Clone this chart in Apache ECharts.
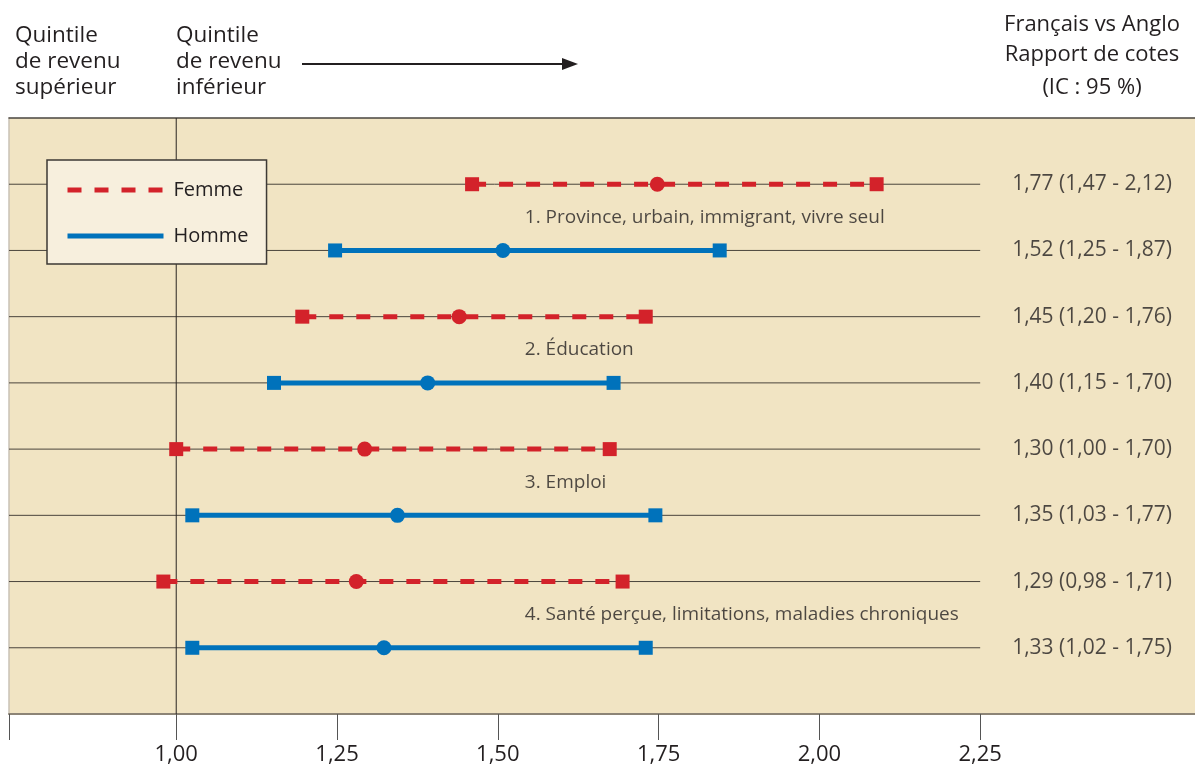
<!DOCTYPE html>
<html>
<head>
<meta charset="utf-8">
<script src="https://cdn.jsdelivr.net/npm/echarts@6/dist/echarts.min.js"></script>
<style>
html,body{margin:0;padding:0;background:#fff;}
#chart{width:1195px;height:768px;}
</style>
</head>
<body>
<div id="chart"></div>
<script>
// ---- Data ----
const femmeRows = [1, 3, 5, 7];
const hommeRows = [2, 4, 6, 8];
const femmeLow  = [1.460, 1.196, 1.000, 0.980];
const femmeMid  = [1.748, 1.440, 1.293, 1.280];
const femmeHigh = [2.089, 1.730, 1.674, 1.694];
const hommeLow  = [1.247, 1.152, 1.025, 1.025];
const hommeMid  = [1.508, 1.391, 1.344, 1.323];
const hommeHigh = [1.845, 1.680, 1.745, 1.730];
const ciLabels = [
  '1,77 (1,47 - 2,12)', '1,52 (1,25 - 1,87)',
  '1,45 (1,20 - 1,76)', '1,40 (1,15 - 1,70)',
  '1,30 (1,00 - 1,70)', '1,35 (1,03 - 1,77)',
  '1,29 (0,98 - 1,71)', '1,33 (1,02 - 1,75)'
];
const groupLabels = [
  '1. Province, urbain, immigrant, vivre seul',
  '2. Éducation',
  '3. Emploi',
  '4. Santé perçue, limitations, maladies chroniques'
];
const groupRows = [1.5, 3.5, 5.5, 7.5];
const tickValues = [1.00, 1.25, 1.50, 1.75, 2.00, 2.25];
const refValue = 1.00;
const axisMin = 0.74, axisMax = 2.584, rowLineEnd = 2.25;
const ciLabelX = 2.424, groupLabelX = 1.542;
const allRows = [1, 2, 3, 4, 5, 6, 7, 8];

// ---- Styles ----
const FONT = 'Open Sans';
const TXT = '#231f20';
const RED = '#d3222a';
const BLUE = '#0072bb';

const chart = echarts.init(document.getElementById('chart'), null, {renderer: 'canvas'});
const series = [];

// row lines
allRows.forEach(r => {
  series.push({
    type: 'line', name: 'row' + r, silent: true, symbol: 'none', z: 1,
    data: [[axisMin, r], [rowLineEnd, r]],
    lineStyle: {color: '#4a443c', width: 1}
  });
});
// reference line at 1.00
series.push({
  type: 'line', name: 'ref', silent: true, symbol: 'none', z: 1,
  data: [[refValue, 0], [refValue, 9]],
  lineStyle: {color: '#2a2522', width: 1}
});

function addGroup(name, rows, low, mid, high, color, dashed) {
  rows.forEach((r, i) => {
    series.push({
      type: 'line', name: name, symbol: 'none', showSymbol: false, z: 3, silent: true,
      data: [[low[i], r], [high[i], r]],
      lineStyle: {color: color, width: 5, type: dashed ? [14, 13] : 'solid', cap: 'butt'},
      itemStyle: {color: color}
    });
  });
  const pts = [];
  rows.forEach((r, i) => {
    pts.push({value: [low[i], r], symbol: 'rect', symbolSize: 14});
    pts.push({value: [high[i], r], symbol: 'rect', symbolSize: 14});
    pts.push({value: [mid[i], r], symbol: 'circle', symbolSize: 15});
  });
  series.push({
    type: 'scatter', name: name + '_pts', z: 4, silent: true,
    data: pts, itemStyle: {color: color, opacity: 1}
  });
}
addGroup('Femme', femmeRows, femmeLow, femmeMid, femmeHigh, RED, true);
addGroup('Homme', hommeRows, hommeLow, hommeMid, hommeHigh, BLUE, false);

// CI labels on right
series.push({
  type: 'scatter', name: 'ci', silent: true, symbolSize: 0, z: 5,
  data: allRows.map((r, i) => ({value: [ciLabelX, r], label: {formatter: ciLabels[i]}})),
  label: {show: true, position: 'inside', color: TXT, fontSize: 21, fontFamily: FONT}
});
// group labels
series.push({
  type: 'scatter', name: 'groups', silent: true, symbolSize: 0, z: 5,
  data: groupRows.map((r, i) => ({value: [groupLabelX, r], label: {formatter: groupLabels[i]}})),
  label: {show: true, position: 'right', distance: 0, align: 'left', color: TXT, fontSize: 19, fontFamily: FONT}
});

const option = {
  animation: false,
  textStyle: {fontFamily: FONT},
  grid: {left: 9, right: 0, top: 118, bottom: 54, show: true, backgroundColor: '#f1e4c3', borderWidth: 0},
  xAxis: [{
    type: 'value', min: axisMin, max: axisMax, position: 'bottom',
    splitLine: {show: false},
    axisLine: {show: true, onZero: false, lineStyle: {color: '#8c8476', width: 2}},
    axisTick: {show: true, length: 26, customValues: [axisMin].concat(tickValues), lineStyle: {color: '#555', width: 1}},
    axisLabel: {
      customValues: tickValues, margin: 30, fontSize: 22, color: TXT, fontFamily: FONT,
      formatter: v => v.toFixed(2).replace('.', ',')
    }
  }, {
    type: 'value', min: axisMin, max: axisMax, position: 'top',
    splitLine: {show: false}, axisTick: {show: false}, axisLabel: {show: false},
    axisLine: {show: true, onZero: false, lineStyle: {color: '#4a4540', width: 1.5}}
  }],
  yAxis: {
    type: 'value', min: 0, max: 9, inverse: true,
    splitLine: {show: false}, axisTick: {show: false}, axisLabel: {show: false},
    axisLine: {show: true, onZero: false, lineStyle: {color: '#c9c2b6', width: 1.5}}
  },
  legend: {
    data: ['Femme', 'Homme'], selectedMode: false,
    orient: 'vertical', left: 47, top: 160,
    itemWidth: 96, itemHeight: 14, itemGap: 26,
    padding: [20, 18, 18, 18],
    backgroundColor: '#f7efdd', borderColor: '#3d3935', borderWidth: 1.5,
    itemStyle: {opacity: 0},
    lineStyle: {width: 5},
    textStyle: {fontSize: 20, color: TXT, fontFamily: FONT, padding: [0, 0, 0, 5]}
  },
  graphic: [
    {type: 'text', left: 15, top: 23, style: {text: 'Quintile\nde revenu\nsupérieur', fontSize: 22.5, lineHeight: 26, fill: TXT, fontFamily: FONT}},
    {type: 'text', left: 176, top: 23, style: {text: 'Quintile\nde revenu\ninférieur', fontSize: 22.5, lineHeight: 26, fill: TXT, fontFamily: FONT}},
    {type: 'line', shape: {x1: 302, y1: 64, x2: 566, y2: 64}, style: {stroke: TXT, lineWidth: 2}},
    {type: 'polygon', shape: {points: [[578, 64], [562, 58], [562, 70]]}, style: {fill: TXT}},
    {type: 'text', x: 1092, y: 25, style: {text: 'Français vs Anglo', fontSize: 22, fill: TXT, fontFamily: FONT, align: 'center', verticalAlign: 'middle'}},
    {type: 'text', x: 1092, y: 55, style: {text: 'Rapport de cotes', fontSize: 22, fill: TXT, fontFamily: FONT, align: 'center', verticalAlign: 'middle'}},
    {type: 'text', x: 1092, y: 88, style: {text: '(IC : 95 %)', fontSize: 22, fill: TXT, fontFamily: FONT, align: 'center', verticalAlign: 'middle'}}
  ],
  series: series
};
chart.setOption(option);
</script>
</body>
</html>
